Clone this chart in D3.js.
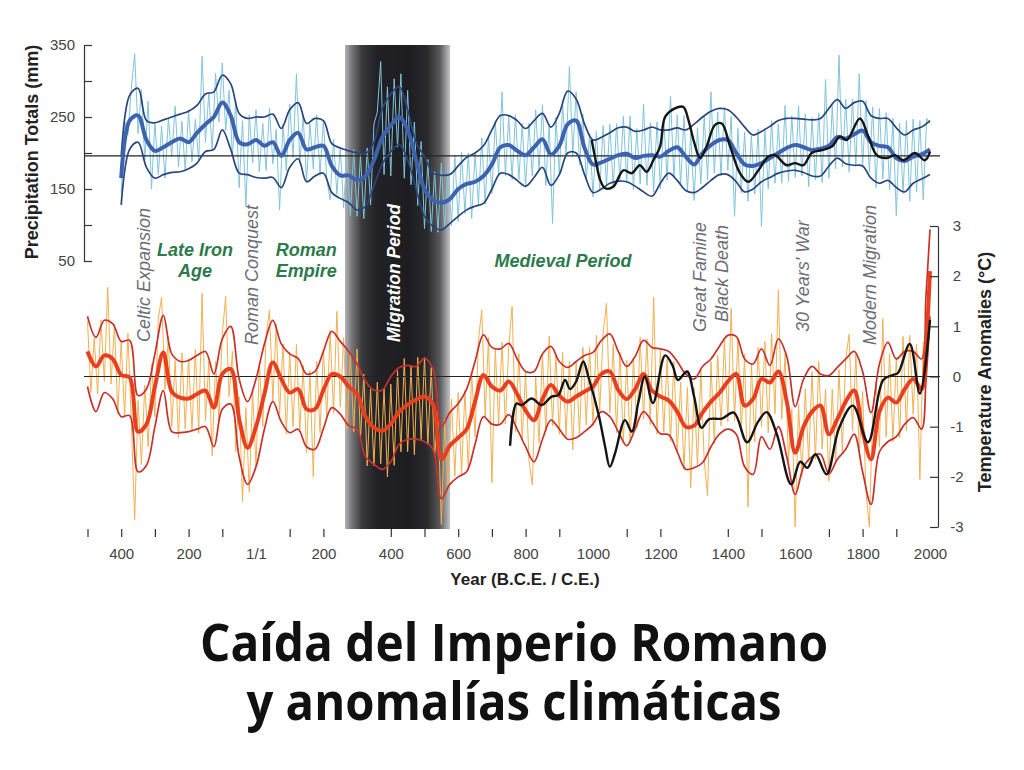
<!DOCTYPE html>
<html><head><meta charset="utf-8">
<script src="https://cdn.jsdelivr.net/npm/d3@7"></script>
<style>html,body{margin:0;padding:0;background:#fff;} svg{display:block;}</style>
</head><body>
<svg id="chart" width="1024" height="770"></svg>
<script>
// ---------------- DATA ----------------
// Smoothed precipitation (mm), years -400..2000 every 25 years
const precipMid = [
 165,245,252,218, 203,208,215,220, 215,228,240,250, 270,252,215,212,
 218,210,215,196, 218,228,205,208, 210,182,169,169, 162,168,190,222,
 238,250,232,190, 150,135,131,136, 150,157,160,168, 184,208,211,203,
 197,208,219,198, 210,240,245,207, 184,187,192,197, 199,193,196,197,
 195,203,208,195, 184,200,211,218, 218,200,184,182, 186,193,200,207,
 211,208,204,206, 210,222,220,226, 231,215,210,208, 193,189,195,198, 205];
const precipUpper = [
 195,280,290,245, 242,246,250,254, 258,266,282,285, 308,296,255,248,
 250,250,254,234, 260,270,241,248, 245,213,207,203, 200,199,215,262,
 282,292,260,215, 195,172,169,170, 182,194,200,210, 232,252,252,245,
 234,245,255,236, 255,286,275,240, 218,222,228,235, 236,230,232,236,
 232,232,235,232, 240,250,258,262, 260,250,236,225, 230,237,245,248,
 248,247,246,248, 262,274,262,270, 272,252,248,248, 235,225,232,236, 245];
const precipLower = [
 128,205,215,180, 165,170,173,174, 178,186,202,205, 232,205,172,170,
 166,165,166,152, 180,192,160,168, 172,145,137,131, 121,126,155,185,
 202,212,190,150, 112,98,93,102, 112,121,126,130, 150,172,170,162,
 154,166,180,155, 170,200,200,170, 145,150,158,161, 160,154,146,140,
 158,172,162,148, 145,152,162,170, 170,160,146,150, 160,166,172,175,
 176,173,168,168, 182,193,185,183, 182,165,158,162, 152,146,158,164, 170];
// Raw precipitation, years -400..2000 every 10 years
const precipRaw = [
 145,245,225,290,338,227,288,190,272,150,
 243,170,237,165,248,195,265,181,244,175,
 260,188,247,190,334,215,284,203,311,243,
 325,231,287,196,273,152,245,126,253,186,
 260,174,241,176,262,185,233,121,240,175,
 268,194,310,185,252,160,241,178,253,169,
 245,164,135,219,143,207,124,199,113,205,
 112,198,109,207,128,240,257,327,170,292,
 168,303,208,310,165,287,156,243,127,216,
 95,191,91,174,90,186,95,180,99,197,
 105,201,116,200,109,200,128,221,129,223,
 144,244,169,285,168,251,163,253,163,241,
 152,241,168,260,175,267,155,240,102,250,
 170,267,197,320,196,285,183,254,162,227,
 139,230,147,238,155,240,152,241,160,251,
 159,251,149,234,157,268,155,242,146,243,
 150,249,162,279,165,253,155,252,147,227,
 134,235,157,251,163,285,172,257,168,263,
 176,251,112,234,145,229,133,224,143,233,
 98,234,150,245,158,240,158,266,160,252,
 166,265,168,254,153,249,163,256,159,302,
 165,265,178,336,181,275,174,275,182,310,
 181,273,173,264,152,262,164,256,149,248,
 113,241,144,245,133,247,146,245,135,248, 240];
// Second precipitation record (black)
const precipBlackYears = [996,1010,1021,1036,1060,1090,1115,1139,1159,1179,1199,1214,1243,1268,1283,1300,1318,1337,1362,1382,1407,1436,1461,1491,1520,1540,1575,1599,1624,1649,1679,1709,1733,1753,1792,1817,1842,1872,1896,1921,1955,1985,2000];
const precipBlack = [218,185,163,151,153,176,172,183,174,190,209,250,262,264,246,215,193,209,239,241,209,172,160,176,195,197,183,186,183,200,204,209,223,218,248,223,197,193,197,190,200,190,202];
const precipRefValue = 196;

// Smoothed temperature anomalies (°C), years -500..1975 every 25 years, then 1988, 2000
const tempMid = [
 0.50,0.20,0.42,0.35, 0.03,-0.02,-1.10,-0.95, -0.20,0.48,-0.30,-0.42, -0.44,-0.35,-0.28,-0.62,
 0.05,0.15,-0.85,-1.42, -1.00,-0.35,0.28,-0.05, -0.32,-0.25,-0.65,-0.65, -0.27,0.05,0.00,-0.20,
 -0.35,-0.80,-1.02,-1.08, -0.95,-0.70,-0.56,-0.46, -0.40,-0.55,-1.65,-1.38, -1.22,-1.05,-0.50,0.03,
 -0.20,-0.28,-0.10,-0.35, -0.68,-0.87,-0.45,-0.17, -0.38,-0.50,-0.40,-0.30, -0.20,0.05,0.10,-0.27,
 -0.45,-0.25,0.05,-0.28, -0.40,-0.48,-0.70,-1.00, -0.98,-0.72,-0.50,-0.33, -0.10,0.05,-0.58,-0.45,
 -0.05,-0.12,0.10,-0.50, -1.52,-1.00,-0.70,-0.58, -1.15,-0.85,-0.50,-0.28, -1.10,-1.65,-0.70,-0.42,
 -0.52,-0.25,-0.05,-0.25, 0.60,2.10];
const tempUpper = [
 1.20,0.78,1.12,1.05, 0.70,0.72,-0.38,-0.25, 0.45,1.22,0.45,0.30, 0.32,0.42,0.50,0.05,
 0.75,1.00,-0.05,-0.50, -0.05,0.65,1.12,0.65, 0.45,0.36,0.05,0.10, 0.50,0.90,0.70,0.50,
 0.25,-0.10,-0.27,-0.27, 0.00,0.18,0.22,0.20, 0.36,0.15,-1.00,-0.72, -0.54,-0.25,0.30,0.83,
 0.58,0.55,0.66,0.35, 0.10,0.10,0.45,0.60, 0.30,0.18,0.30,0.42, 0.48,0.72,0.85,0.50,
 0.20,0.40,0.72,0.58, 0.55,0.50,0.30,0.05, -0.05,0.20,0.35,0.60, 0.82,0.80,0.35,0.25,
 0.55,0.22,0.75,0.40, -0.60,-0.05,0.20,0.05, 0.02,0.18,0.35,0.50, 0.10,-0.72,0.25,0.68,
 0.35,0.50,0.50,0.35, 1.60,2.93];
const tempLower = [
 -0.20,-0.70,-0.32,-0.45, -0.80,-0.78,-1.90,-1.77, -1.00,-0.28,-1.10,-1.12, -1.10,-1.05,-1.00,-1.40,
 -0.65,-0.55,-1.60,-2.15, -1.80,-1.05,-0.50,-0.90, -1.12,-1.05,-1.40,-1.45, -1.04,-0.62,-0.75,-0.98,
 -1.05,-1.60,-1.75,-1.85, -1.70,-1.35,-1.25,-1.25, -1.30,-1.45,-2.44,-2.15, -2.00,-1.90,-1.35,-0.80,
 -0.95,-0.95,-0.76,-1.05, -1.40,-1.70,-1.25,-0.87, -1.05,-1.25,-1.22,-1.10, -0.95,-0.70,-0.80,-1.10,
 -1.38,-1.05,-0.70,-0.90, -1.14,-1.16,-1.50,-1.85, -1.82,-1.72,-1.40,-1.15, -1.05,-1.15,-1.80,-1.95,
 -1.20,-1.45,-1.00,-1.60, -2.35,-1.80,-1.60,-1.55, -1.94,-1.65,-1.45,-1.15, -1.90,-2.55,-1.50,-1.30,
 -1.20,-0.95,-0.82,-1.05, -0.10,1.20];
// Raw temperature, years -500..1980 every 10 years
const tempRaw = [
 1.10,-0.32,0.76,-0.35,1.13,-0.10,1.78,-0.15,1.05,-0.75,
 0.72,-0.80,0.86,-0.90,-2.85,-0.48,-1.75,-0.17,-1.40,0.25,
 -0.80,1.15,1.58,-0.25,0.80,-1.00,0.32,-1.22,0.47,-1.04,
 0.36,-1.10,0.54,-1.13,1.66,-0.88,0.30,-1.58,0.30,-0.90,
 0.85,1.60,-0.40,0.50,-1.50,-0.40,-2.50,-0.62,-2.30,-0.30,
 -1.80,0.25,-1.00,0.80,1.32,-0.50,1.05,-0.75,0.65,-1.15,
 0.48,-1.00,0.64,-1.10,0.22,-1.52,0.12,-2.00,0.30,-1.12,
 0.53,-0.82,0.92,-0.73,1.30,-0.60,0.78,-1.05,0.45,-1.10,
 0.55,-1.25,0.05,-1.78,-0.25,-1.78,-0.11,-1.74,-0.24,-2.00,
 -0.15,-1.77,0.12,-1.50,0.36,-1.50,0.22,-1.56,0.38,-1.26,
 0.38,-1.36,0.18,-1.60,-0.70,-2.95,-0.85,-2.22,-0.45,-1.98,
 -0.32,-1.95,-0.28,-1.85,0.08,-1.20,0.72,1.33,-0.80,0.78,
 -2.12,0.56,-0.95,0.68,-0.95,0.60,1.40,-1.10,0.45,-1.28,
 0.10,-1.68,-2.16,-0.02,-1.32,0.45,-1.10,0.80,-0.98,0.44,
 -1.15,0.48,-1.20,0.30,-1.46,0.28,-1.17,0.58,-0.97,0.58,
 -0.98,0.82,-0.68,0.86,1.46,-0.72,0.64,-1.12,0.48,-1.32,
 0.32,-1.32,0.37,-1.02,0.78,-0.85,0.75,-0.96,1.58,-1.15,
 0.52,-1.11,0.36,-1.30,0.30,-1.50,-0.12,-1.85,-0.22,-2.22,
 -0.22,-1.80,0.13,-1.67,-2.38,0.30,-1.34,0.42,-0.98,0.72,
 -0.90,1.36,-0.88,0.75,-1.10,0.45,-2.60,0.26,-1.30,0.58,
 -1.00,0.70,-1.12,0.85,-0.74,1.72,-0.85,0.45,-1.70,-0.65,
 -3.00,-0.55,-2.00,-0.25,-1.70,0.10,-1.65,0.30,-1.45,-0.25,
 -2.08,-0.25,-1.72,0.14,-1.50,0.35,0.84,-1.09,0.45,-1.50,
 -0.30,-2.30,-3.00,-0.70,-0.10,-1.40,1.15,-1.20,0.45,-1.30,
 0.38,-1.22,0.80,-1.08,0.82,-0.75,0.65,-2.05,0.70];
// Second temperature record (black)
const tempBlackYears = [754,773,788,818,848,877,897,917,932,950,971,986,1016,1036,1050,1065,1095,1115,1135,1154,1178,1214,1236,1252,1279,1300,1322,1345,1382,1418,1457,1490,1515,1545,1588,1615,1636,1660,1693,1730,1771,1816,1861,1890,1905,1940,1970,2000];
const tempBlack = [-1.38,-0.54,-0.57,-0.44,-0.57,-0.40,-0.37,-0.07,-0.25,-0.10,0.30,0.0,-0.74,-1.40,-1.80,-1.54,-0.87,-1.10,-0.50,0.0,-0.53,0.42,0.22,-0.07,0.10,-0.40,-1.02,-0.85,-0.84,-0.72,-1.31,-0.90,-0.71,-1.14,-2.15,-1.70,-1.82,-1.55,-1.95,-1.03,-0.58,-1.31,-0.07,0.03,0.07,0.65,-0.34,1.13];

// Migration Period band (years)
const migrationBand = [264, 576];

// Axis ticks and labels
const xTickYears = [-500,-400,-300,-200,-100,100,200,400,500,600,700,800,900,1100,1200,1400,1500,1700,1800,1900];
const xLabelYears = [-400,-200,0,200,400,600,800,1000,1200,1400,1600,1800,2000];
const precipTicks = [350,300,250,200,150,100,50];
const precipLabelled = [350,250,150,50];
const tempTicks = [-3,-2,-1,0,1,2,3];

// Annotations
const rotatedNotes = [
  {text:"Celtic Expansion", year:-314, base:342},
  {text:"Roman Conquest", year:5, base:345},
  {text:"Great Famine", year:1336, base:332},
  {text:"Black Death", year:1401, base:322},
  {text:"30 Years' War", year:1641, base:332},
  {text:"Modern Migration", year:1841, base:345}
];
const periodNotes = [
  {lines:["Late Iron","Age"], year:-181},
  {lines:["Roman","Empire"], year:149},
  {lines:["Medieval Period"], year:911}
];
const titleLines = ["Caída del Imperio Romano", "y anomalías climáticas"];

// ---------------- DRAWING ----------------
const svg = d3.select("#chart");
svg.append("rect").attr("width",1024).attr("height",770).attr("fill","#fff");

const x = d3.scaleLinear().domain([-500, 2000]).range([87.5, 930]);
const yP = d3.scaleLinear().domain([50, 350]).range([261, 45]);
const yT = d3.scaleLinear().domain([-3, 3]).range([527, 226]);

const precipSmoothYears = d3.range(-400, 2001, 25);
const precipRawYears = d3.range(-400, 2001, 10);
const tempSmoothYears = d3.range(-500, 1976, 25).concat([1988, 2000]);
const tempRawYears = d3.range(-500, 1981, 10);

const defs = svg.append("defs");
const grad = defs.append("linearGradient").attr("id","bandGrad")
  .attr("x1","0%").attr("x2","100%").attr("y1","0%").attr("y2","0%");
[[0,"#b4b4b6"],[0.06,"#7a7a7c"],[0.16,"#3a3a3c"],[0.3,"#222226"],[0.6,"#1d1d21"],[0.78,"#2a2a2d"],[0.9,"#58585b"],[1,"#c4c4c6"]]
  .forEach(([o,c]) => grad.append("stop").attr("offset", o).attr("stop-color", c));

svg.append("rect")
  .attr("x", x(migrationBand[0])).attr("width", x(migrationBand[1]) - x(migrationBand[0]))
  .attr("y", 45).attr("height", 529 - 45)
  .attr("fill", "url(#bandGrad)");

const smooth = d3.curveCatmullRom.alpha(0.5);
function path(years, vals, yScale, curve) {
  return d3.line().x((d,i) => x(years[i])).y(d => yScale(d)).curve(curve || d3.curveLinear)(vals);
}

// Precipitation
svg.append("path").attr("d", path(precipRawYears, precipRaw, yP))
  .attr("fill","none").attr("stroke","#80c4dc").attr("stroke-width",1).attr("stroke-linejoin","round");
svg.append("line").attr("x1",84).attr("x2",940).attr("y1",yP(precipRefValue)).attr("y2",yP(precipRefValue))
  .attr("stroke","#222").attr("stroke-width",1.1);
[precipUpper, precipLower].forEach(v => svg.append("path").attr("d", path(precipSmoothYears, v, yP, smooth))
  .attr("fill","none").attr("stroke","#28457e").attr("stroke-width",1.7));
svg.append("path").attr("d", path(precipSmoothYears, precipMid, yP, smooth))
  .attr("fill","none").attr("stroke","#3d63b0").attr("stroke-width",4).attr("stroke-linejoin","round");
svg.append("path").attr("d", path(precipBlackYears, precipBlack, yP, smooth))
  .attr("fill","none").attr("stroke","#151515").attr("stroke-width",2.4).attr("stroke-linejoin","round");

// Temperature
svg.append("path").attr("d", path(tempRawYears, tempRaw, yT))
  .attr("fill","none").attr("stroke","#f2b050").attr("stroke-width",1).attr("stroke-linejoin","round");
svg.append("line").attr("x1",84).attr("x2",940).attr("y1",yT(0)).attr("y2",yT(0))
  .attr("stroke","#222").attr("stroke-width",1.1);
[tempUpper, tempLower].forEach(v => svg.append("path").attr("d", path(tempSmoothYears, v, yT, smooth))
  .attr("fill","none").attr("stroke","#c8322c").attr("stroke-width",1.7));
svg.append("path").attr("d", path(tempSmoothYears, tempMid, yT, smooth))
  .attr("fill","none").attr("stroke","#e8401f").attr("stroke-width",4).attr("stroke-linejoin","round");
svg.append("path").attr("d", path(tempBlackYears, tempBlack, yT, smooth))
  .attr("fill","none").attr("stroke","#151515").attr("stroke-width",2.4).attr("stroke-linejoin","round");

// Axes
const tickFont = "'Liberation Sans', Arial, sans-serif";
function styleAxis(g) {
  g.selectAll(".domain").attr("stroke","#333").attr("stroke-width",1.2);
  g.selectAll(".tick line").attr("stroke","#333").attr("stroke-width",1.2);
  g.selectAll("text").attr("font-family",tickFont).attr("font-size",15).attr("fill","#444");
}
const gL = svg.append("g").attr("transform","translate(84,0)")
  .call(d3.axisLeft(yP).tickValues(precipTicks).tickSize(-8).tickSizeOuter(0).tickPadding(9)
    .tickFormat(d => precipLabelled.includes(d) ? String(d) : ""));
styleAxis(gL);

const gR = svg.append("g").attr("transform","translate(938,0)")
  .call(d3.axisRight(yT).tickValues(tempTicks).tickSize(-8).tickSizeOuter(0).tickPadding(19)
    .tickFormat(d => String(d)));
styleAxis(gR);
gR.selectAll("text").attr("text-anchor","middle");

const gXT = svg.append("g").attr("transform","translate(0,529)")
  .call(d3.axisBottom(x).tickValues(xTickYears).tickSize(8).tickFormat(""));
gXT.select(".domain").remove();
styleAxis(gXT);

const gXL = svg.append("g").attr("transform","translate(0,548)")
  .call(d3.axisBottom(x).tickValues(xLabelYears).tickSize(0).tickPadding(0)
    .tickFormat(d => d < 0 ? String(-d) : (d === 0 ? "1/1" : String(d))));
gXL.select(".domain").remove();
styleAxis(gXL);

// Axis titles
svg.append("text").attr("transform","translate(38,152) rotate(-90)").attr("text-anchor","middle")
  .attr("font-family",tickFont).attr("font-weight","bold").attr("font-size",18).attr("fill","#222")
  .text("Precipitation Totals (mm)");
svg.append("text").attr("transform","translate(991,372) rotate(-90)").attr("text-anchor","middle")
  .attr("font-family",tickFont).attr("font-weight","bold").attr("font-size",18).attr("fill","#222")
  .text("Temperature Anomalies (°C)");
svg.append("text").attr("x",525).attr("y",585).attr("text-anchor","middle")
  .attr("font-family",tickFont).attr("font-weight","bold").attr("font-size",17).attr("fill","#222")
  .text("Year (B.C.E. / C.E.)");

// Annotations
rotatedNotes.forEach(n => {
  svg.append("text").attr("transform", `translate(${x(n.year)},${n.base}) rotate(-90)`)
    .attr("font-family",tickFont).attr("font-style","italic").attr("font-size",18).attr("fill","#6c6c74")
    .text(n.text);
});
svg.append("text").attr("transform", `translate(${x((migrationBand[0]+migrationBand[1])/2)+2},342) rotate(-90)`)
  .attr("font-family",tickFont).attr("font-style","italic").attr("font-weight","bold").attr("font-size",17.5)
  .attr("fill","#fff").text("Migration Period");
periodNotes.forEach(n => {
  n.lines.forEach((ln, i) => {
    svg.append("text").attr("x", x(n.year)).attr("y", (n.lines.length === 1 ? 267 : 256 + i*21))
      .attr("text-anchor","middle").attr("font-family",tickFont).attr("font-style","italic")
      .attr("font-weight","bold").attr("font-size",18).attr("fill","#2c7a4c").text(ln);
  });
});

// Title
const titleFont = "'Open Sans', 'DejaVu Sans', sans-serif";
[[titleLines[0], 661, 628], [titleLines[1], 720, 535]].forEach(([t, y, len]) => {
  svg.append("text").attr("x", 514).attr("y", y).attr("text-anchor","middle")
    .attr("font-family", titleFont).attr("font-weight",700).attr("font-size",52)
    .attr("textLength", len).attr("lengthAdjust","spacingAndGlyphs").attr("fill","#111").text(t);
});
</script>
</body></html>
